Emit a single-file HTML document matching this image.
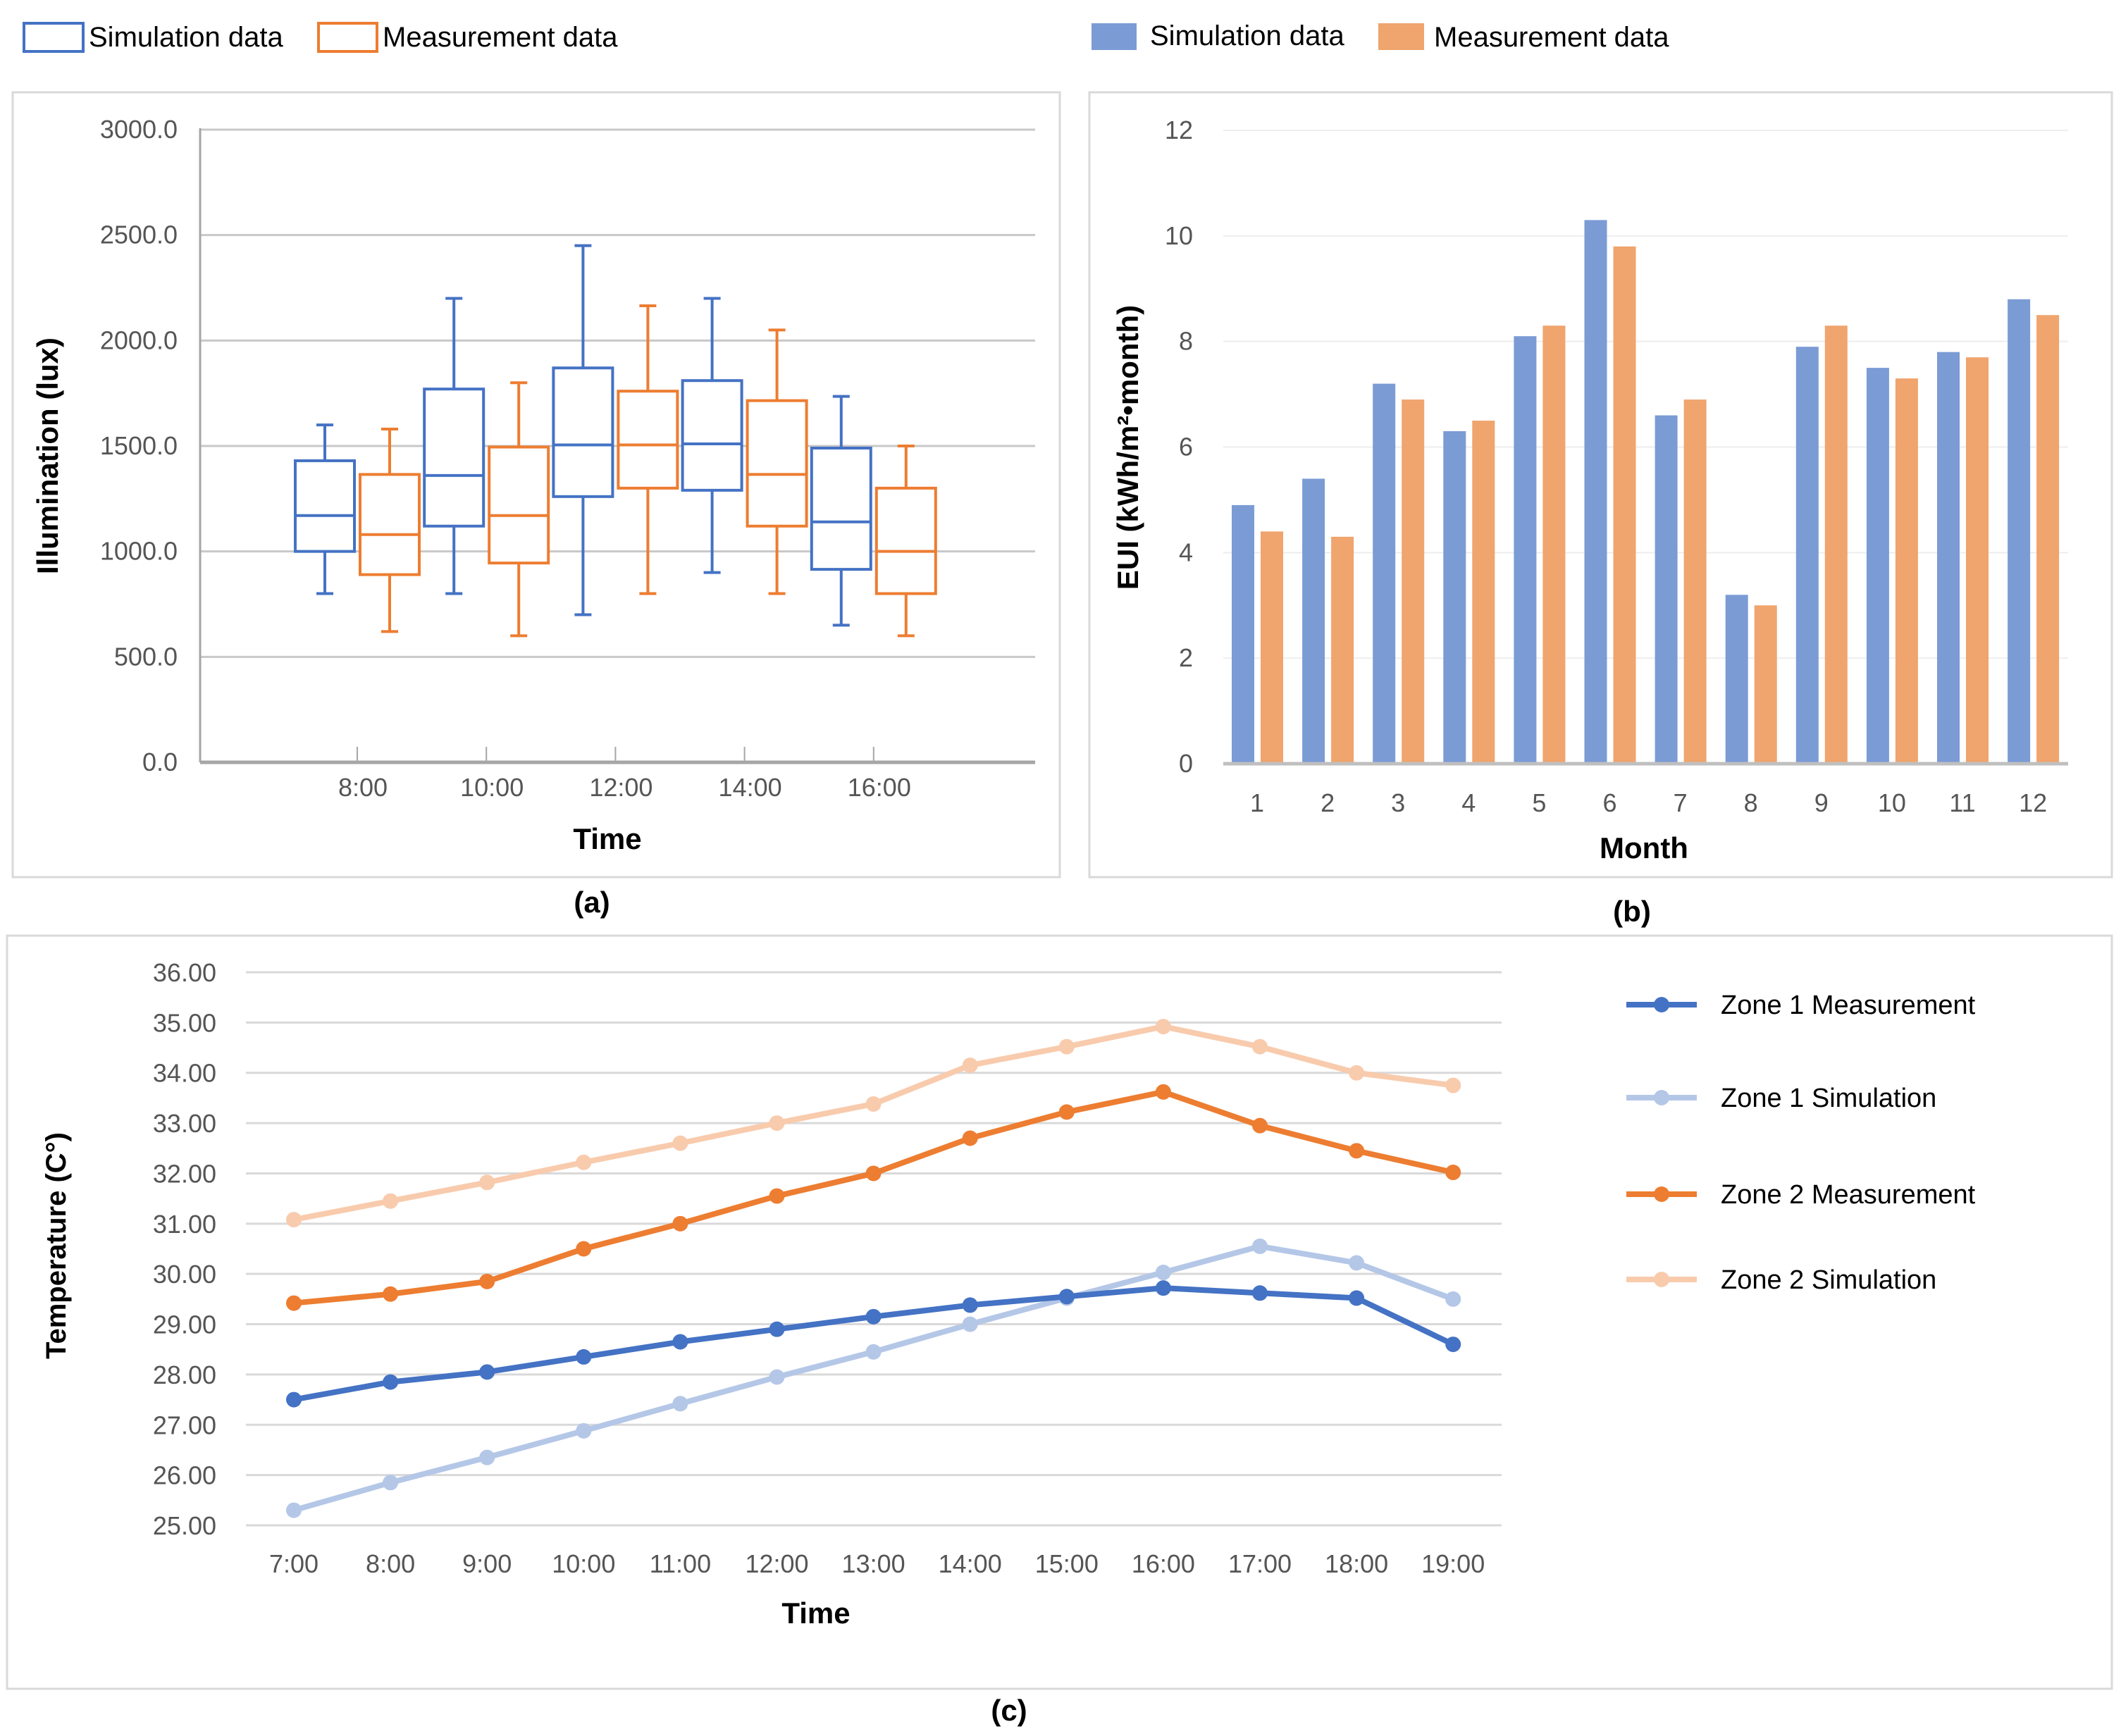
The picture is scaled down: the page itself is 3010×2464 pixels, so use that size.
<!DOCTYPE html>
<html><head><meta charset="utf-8"><style>
html,body{margin:0;padding:0;background:#fff;}
svg{display:block;font-family:"Liberation Sans",sans-serif;}
</style></head><body>
<svg id="fig" width="3010" height="2464" viewBox="0 0 3010 2464" xmlns="http://www.w3.org/2000/svg">
<rect x="0" y="0" width="3010" height="2464" fill="#fff"/>
<rect x="18" y="131" width="1486" height="1114" fill="none" stroke="#d9d9d9" stroke-width="3"/>
<rect x="1546" y="131" width="1451" height="1114" fill="none" stroke="#d9d9d9" stroke-width="3"/>
<rect x="10" y="1328" width="2987" height="1069" fill="none" stroke="#d9d9d9" stroke-width="3"/>
<g>
<rect x="34" y="33" width="84" height="40" fill="none" stroke="#4472C4" stroke-width="4"/>
<text x="126" y="66" font-size="40" fill="#000">Simulation data</text>
<rect x="452" y="33" width="83" height="40" fill="none" stroke="#ED7D31" stroke-width="4"/>
<text x="543" y="66" font-size="40" fill="#000">Measurement data</text>
</g>
<g>
<rect x="1549" y="33" width="64" height="38" fill="#7B9BD5"/>
<text x="1632" y="64" font-size="40" fill="#000">Simulation data</text>
<rect x="1956" y="33" width="65" height="38" fill="#F0A46E"/>
<text x="2035" y="66" font-size="40" fill="#000">Measurement data</text>
</g>
<g id="ga"></g><g id="gb"></g><g id="gc"></g>
<text x="840" y="1295" font-size="42" font-weight="bold" text-anchor="middle">(a)</text>
<text x="2316" y="1308" font-size="42" font-weight="bold" text-anchor="middle">(b)</text>
<text x="1432" y="2442" font-size="42" font-weight="bold" text-anchor="middle">(c)</text>
</svg>
<script>
const boxTimes = ["8:00","10:00","12:00","14:00","16:00"];
const simMin = [800,800,700,900,650];
const simQ1 = [1000,1120,1260,1290,915];
const simMed = [1170,1360,1505,1510,1140];
const simQ3 = [1430,1770,1870,1810,1490];
const simMax = [1600,2200,2450,2200,1735];
const meaMin = [620,600,800,800,600];
const meaQ1 = [890,945,1300,1120,800];
const meaMed = [1080,1170,1505,1365,1000];
const meaQ3 = [1365,1495,1760,1715,1300];
const meaMax = [1580,1800,2165,2050,1500];
const aTicks = ["0.0","500.0","1000.0","1500.0","2000.0","2500.0","3000.0"];
const months = ["1","2","3","4","5","6","7","8","9","10","11","12"];
const euiSim = [4.9,5.4,7.2,6.3,8.1,10.3,6.6,3.2,7.9,7.5,7.8,8.8];
const euiMea = [4.4,4.3,6.9,6.5,8.3,9.8,6.9,3.0,8.3,7.3,7.7,8.5];
const bTicks = ["0","2","4","6","8","10","12"];
const hours = ["7:00","8:00","9:00","10:00","11:00","12:00","13:00","14:00","15:00","16:00","17:00","18:00","19:00"];
const z1Meas = [27.5,27.85,28.05,28.35,28.65,28.9,29.15,29.38,29.55,29.72,29.62,29.52,28.6];
const z1Sim = [25.3,25.85,26.35,26.88,27.42,27.95,28.45,29.0,29.52,30.03,30.55,30.22,29.5];
const z2Meas = [29.42,29.6,29.85,30.5,31.0,31.55,32.0,32.7,33.22,33.62,32.95,32.45,32.02];
const z2Sim = [31.08,31.45,31.82,32.22,32.6,33.0,33.38,34.15,34.52,34.92,34.52,34.0,33.75];
const cTicks = ["25.00","26.00","27.00","28.00","29.00","30.00","31.00","32.00","33.00","34.00","35.00","36.00"];

const NS="http://www.w3.org/2000/svg";
function mk(parent,tag,attrs,txt){const e=document.createElementNS(NS,tag);for(const k in attrs)e.setAttribute(k,attrs[k]);if(txt!==undefined)e.textContent=txt;parent.appendChild(e);return e;}

(function(){
const g=document.getElementById('ga');
const y0=1082,y1=184,x0=284,x1=1469;
const ya=v=>y0-(v/3000)*(y0-y1);
const xa=i=>507+183.2*i;
aTicks.forEach((t,i)=>{const v=parseFloat(t);const y=ya(v);
 const l=mk(g,'line',{x1:x0,x2:x1,y1:y,y2:y,stroke:'#c8c8c8','stroke-width':3});
 
 
 const tx=mk(g,'text',{x:252,y:y+12,'font-size':36,'text-anchor':'end',fill:'#555'},t);
 
 
});
let ax=mk(g,'line',{x1:x0,x2:x0,y1:y1-2,y2:y0,stroke:'#a6a6a6','stroke-width':3});


ax=mk(g,'line',{x1:x0,x2:x1,y1:y0,y2:y0,stroke:'#a6a6a6','stroke-width':5});


boxTimes.forEach((t,i)=>{const x=xa(i);
 const tk=mk(g,'line',{x1:x,x2:x,y1:y0,y2:y0-22,stroke:'#a6a6a6','stroke-width':2});
 
 
 const tl=mk(g,'text',{x:x+8,y:1130,'font-size':36,'text-anchor':'middle',fill:'#555'},t);
 
 
 const sets=[[simMin,simQ1,simMed,simQ3,simMax,'#4472C4',-46,'box-sim'],[meaMin,meaQ1,meaMed,meaQ3,meaMax,'#ED7D31',46,'box-meas']];
 sets.forEach(s=>{const cx=x+s[6],c=s[5],w=84;
  const bg=mk(g,'g',{});
  
  
  mk(bg,'line',{x1:cx,x2:cx,y1:ya(s[0][i]),y2:ya(s[1][i]),stroke:c,'stroke-width':4});
  mk(bg,'line',{x1:cx,x2:cx,y1:ya(s[3][i]),y2:ya(s[4][i]),stroke:c,'stroke-width':4});
  mk(bg,'line',{x1:cx-12,x2:cx+12,y1:ya(s[0][i]),y2:ya(s[0][i]),stroke:c,'stroke-width':4});
  mk(bg,'line',{x1:cx-12,x2:cx+12,y1:ya(s[4][i]),y2:ya(s[4][i]),stroke:c,'stroke-width':4});
  mk(bg,'rect',{x:cx-w/2,y:ya(s[3][i]),width:w,height:ya(s[1][i])-ya(s[3][i]),fill:'#fff',stroke:c,'stroke-width':4});
  mk(bg,'line',{x1:cx-w/2,x2:cx+w/2,y1:ya(s[2][i]),y2:ya(s[2][i]),stroke:c,'stroke-width':4});
 });
});
let tt=mk(g,'text',{x:862,y:1205,'font-size':42,'font-weight':'bold','text-anchor':'middle',fill:'#000'},'Time');


tt=mk(g,'text',{x:0,y:0,'font-size':42,'font-weight':'bold','text-anchor':'middle',fill:'#000',transform:'translate(82,647) rotate(-90)'},'Illumination (lux)');


})();

(function(){
const g=document.getElementById('gb');
const y0=1084,y1=185,x0=1736,x1=2935;
const yb=v=>y0-(v/12)*(y0-y1);
const band=100.1;
bTicks.forEach(t=>{const y=yb(parseFloat(t));
 const l=mk(g,'line',{x1:x0,x2:x1,y1:y,y2:y,stroke:'#eeeeee','stroke-width':2});
 
 
 const tx=mk(g,'text',{x:1693,y:y+12,'font-size':36,'text-anchor':'end',fill:'#555'},t);
 
 
});
months.forEach((m,i)=>{const bx=x0+band*i;
 const r1=mk(g,'rect',{x:bx+12,y:yb(euiSim[i]),width:32,height:y0-yb(euiSim[i]),fill:'#7B9BD5'});
 
 
 const r2=mk(g,'rect',{x:bx+53,y:yb(euiMea[i]),width:32,height:y0-yb(euiMea[i]),fill:'#F0A46E'});
 
 
 const tl=mk(g,'text',{x:bx+48,y:1152,'font-size':36,'text-anchor':'middle',fill:'#555'},m);
 
 
});
const ax=mk(g,'line',{x1:x0,x2:x1,y1:y0,y2:y0,stroke:'#bfbfbf','stroke-width':5});


let tt=mk(g,'text',{x:2333,y:1218,'font-size':42,'font-weight':'bold','text-anchor':'middle',fill:'#000'},'Month');


tt=mk(g,'text',{x:0,y:0,'font-size':42,'font-weight':'bold','text-anchor':'middle',fill:'#000',transform:'translate(1615,635) rotate(-90)'},'EUI (kWh/m²•month)');


})();

(function(){
const g=document.getElementById('gc');
const y0=2165,y1=1380,x0=349,x1=2131;
const yc=v=>y0-((v-25)/11)*(y0-y1);
const xc=i=>417+137.1*i;
cTicks.forEach(t=>{const y=yc(parseFloat(t));
 const l=mk(g,'line',{x1:x0,x2:x1,y1:y,y2:y,stroke:'#d9d9d9','stroke-width':3});
 
 
 const tx=mk(g,'text',{x:307,y:y+13,'font-size':36,'text-anchor':'end',fill:'#555'},t);
 
 
});
hours.forEach((h,i)=>{
 const tl=mk(g,'text',{x:xc(i),y:2232,'font-size':36,'text-anchor':'middle',fill:'#555'},h);
 
 
});
const series=[[z1Meas,'#4472C4','zone1-measurement'],[z1Sim,'#B4C7E7','zone1-simulation'],[z2Meas,'#ED7D31','zone2-measurement'],[z2Sim,'#F8CBAD','zone2-simulation']];
const order=[3,2,1,0];
order.forEach(k=>{const s=series[k];
 const sg=mk(g,'g',{});
 
 
 const pts=s[0].map((v,i)=>xc(i)+','+yc(v)).join(' ');
 mk(sg,'polyline',{points:pts,fill:'none',stroke:s[1],'stroke-width':8,'stroke-linejoin':'round'});
 s[0].forEach((v,i)=>{
  const c=mk(sg,'circle',{cx:xc(i),cy:yc(v),r:11,fill:s[1]});
  
  
 });
});
const leg=[['Zone 1 Measurement',1426],['Zone 1 Simulation',1558],['Zone 2 Measurement',1695],['Zone 2 Simulation',1816]];
leg.forEach((L,k)=>{const lg=mk(g,'g',{});
 
 
 mk(lg,'line',{x1:2308,x2:2408,y1:L[1],y2:L[1],stroke:series[k][1],'stroke-width':8});
 mk(lg,'circle',{cx:2358,cy:L[1],r:11,fill:series[k][1]});
 mk(lg,'text',{x:2442,y:L[1]+13,'font-size':38,fill:'#000'},L[0]);
});
let tt=mk(g,'text',{x:1158,y:2304,'font-size':42,'font-weight':'bold','text-anchor':'middle',fill:'#000'},'Time');


tt=mk(g,'text',{x:0,y:0,'font-size':40,'font-weight':'bold','text-anchor':'middle',fill:'#000',transform:'translate(93,1768) rotate(-90)'},'Temperature (C°)');


})();
</script>
</body></html>
